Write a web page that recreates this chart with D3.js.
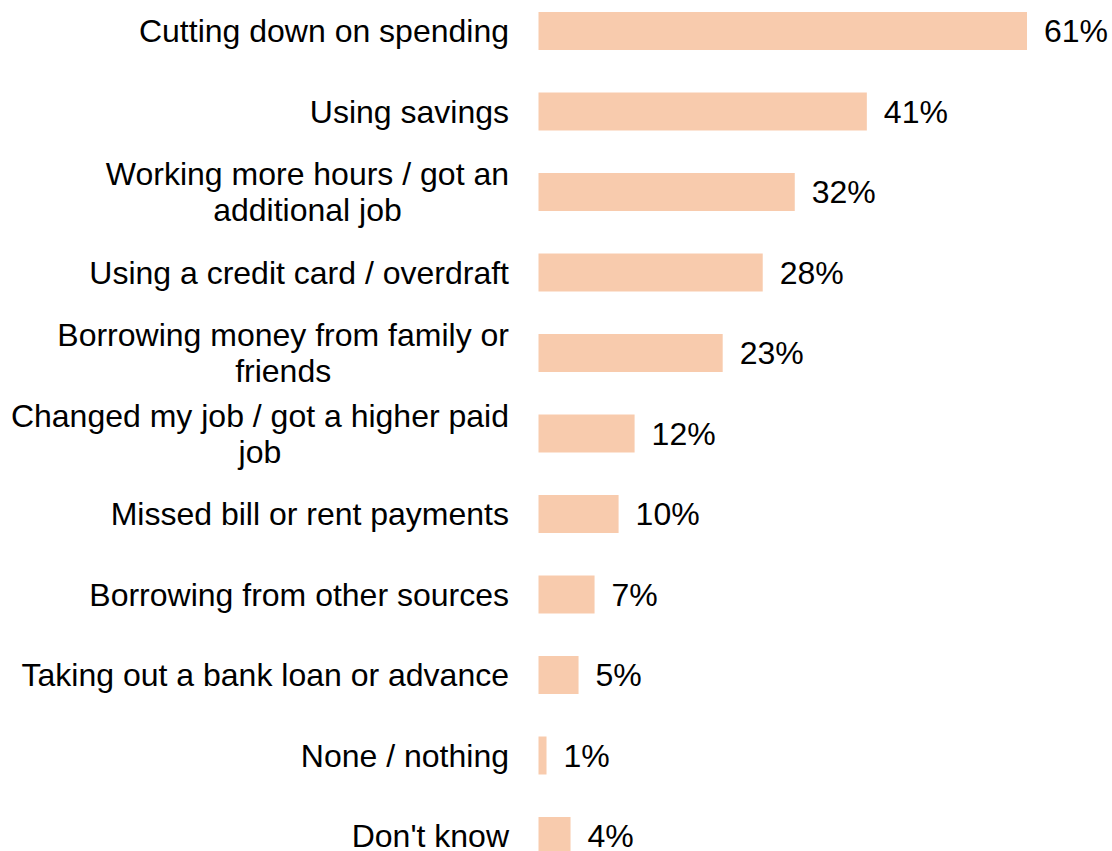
<!DOCTYPE html>
<html>
<head>
<meta charset="utf-8">
<script src="https://cdn.jsdelivr.net/npm/d3@7"></script>
<style>
  html, body { margin: 0; padding: 0; background: #fff; }
  svg { display: block; }
  text { font-family: "Liberation Sans", Arial, sans-serif; fill: #000; }
</style>
</head>
<body>
<svg id="chart" width="1112" height="851"></svg>
<script>
// Ways of coping with rising costs (share of respondents, %)
const categories = [
  ["Cutting down on spending"],
  ["Using savings"],
  ["Working more hours / got an", "additional job"],
  ["Using a credit card / overdraft"],
  ["Borrowing money from family or", "friends"],
  ["Changed my job / got a higher paid", "job"],
  ["Missed bill or rent payments"],
  ["Borrowing from other sources"],
  ["Taking out a bank loan or advance"],
  ["None / nothing"],
  ["Don't know"]
];
const values = [61, 41, 32, 28, 23, 12, 10, 7, 5, 1, 4];
const valueLabels = ["61%", "41%", "32%", "28%", "23%", "12%", "10%", "7%", "5%", "1%", "4%"];

const svg = d3.select("#chart");
const keys = categories.map((c, i) => i);

const x = d3.scaleLinear().domain([0, 61]).range([538.5, 1027]);
const y = d3.scaleBand().domain(keys).range([-9.25, 876.25]).paddingInner(0.528).paddingOuter(0.264);

const fontSize = 32;
const lineGap = 36;
const labelRight = 509;

// bars
svg.append("g").selectAll("rect")
  .data(keys)
  .enter().append("rect")
  .attr("x", x(0))
  .attr("y", i => y(i))
  .attr("width", i => x(values[i]) - x(0))
  .attr("height", y.bandwidth())
  .attr("fill", "#f8cbad");

// category labels: single lines right-aligned, wrapped lines centred on their block
const measure = ln => {
  const tmp = svg.append("text").attr("font-size", fontSize).text(ln);
  const w = tmp.node().getComputedTextLength();
  tmp.remove();
  return w;
};
svg.append("g").selectAll("text")
  .data(keys)
  .enter().append("text")
  .attr("font-size", fontSize)
  .attr("dominant-baseline", "central")
  .each(function(i) {
    const t = d3.select(this);
    const lines = categories[i];
    const n = lines.length;
    const cy = y(i) + y.bandwidth() / 2;
    if (n === 1) {
      t.attr("text-anchor", "end")
        .append("tspan").attr("x", labelRight).attr("y", cy).text(lines[0]);
    } else {
      const maxW = d3.max(lines, measure);
      const centre = labelRight - maxW / 2;
      t.attr("text-anchor", "middle");
      lines.forEach((ln, k) => {
        t.append("tspan")
          .attr("x", centre)
          .attr("y", cy + (k - (n - 1) / 2) * lineGap)
          .text(ln);
      });
    }
  });

// value labels
svg.append("g").selectAll("text")
  .data(keys)
  .enter().append("text")
  .attr("font-size", fontSize)
  .attr("x", i => x(values[i]) + 17)
  .attr("y", i => y(i) + y.bandwidth() / 2)
  .attr("dominant-baseline", "central")
  .text(i => valueLabels[i]);
</script>
</body>
</html>
